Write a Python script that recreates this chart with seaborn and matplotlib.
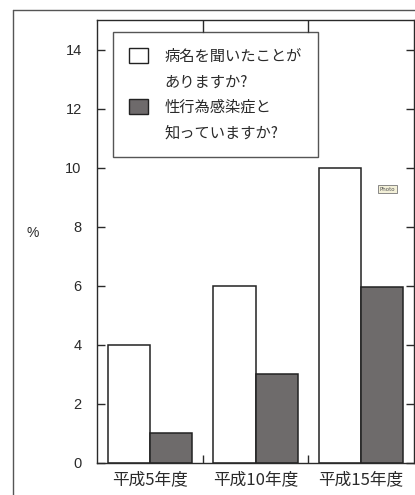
import pandas as pd
import matplotlib
matplotlib.use('Agg')
import matplotlib.pyplot as plt
import seaborn as sns
from matplotlib.patches import Patch
from matplotlib.lines import Line2D

# ----------- data -------------
years = ['平成5年度', '平成10年度', '平成15年度']
heard_of = [4.0, 6.0, 10.0]       # 病名を聞いたことがありますか?
know_sti = [1.0, 3.0, 5.95]       # 性行為感染症と知っていますか?
series_names = ['heard', 'sti']
legend_lines = ['病名を聞いたことが', 'ありますか?', '性行為感染症と', '知っていますか?']
y_ticks = [0, 2, 4, 6, 8, 10, 12, 14]

df = pd.DataFrame({
    'year': years * 2,
    'kind': [series_names[0]] * 3 + [series_names[1]] * 3,
    'value': heard_of + know_sti,
})

sns.set_style('ticks')
plt.rcParams['font.family'] = ['Noto Sans CJK JP', 'DejaVu Sans']

ink = '#2a2a2a'
dark = '#6e6a6b'

fig = plt.figure(figsize=(4.15, 4.95), dpi=100)
ax = fig.add_axes([97 / 415, 32 / 495, 317 / 415, 443 / 495])

sns.barplot(data=df, x='year', y='value', hue='kind', palette=['white', dark],
            edgecolor='#222222', linewidth=1.1, width=0.8, legend=False, ax=ax)

ax.set_ylim(0, 15)
ax.set_xlim(-0.5, 2.5)
ax.set_yticks(y_ticks)
ax.set_xlabel('')
ax.set_ylabel('')

for s in ax.spines.values():
    s.set_visible(True)
    s.set_color(ink)
    s.set_linewidth(1.0)

ax.tick_params(axis='y', direction='in', length=6, width=1, color=ink,
               labelsize=10.5, labelcolor=ink, right=True, pad=11)
for lab in ax.get_yticklabels():
    lab.set_family('Liberation Sans')
ax.tick_params(axis='x', which='major', length=0, labelsize=12, labelcolor=ink, pad=6)
ax.set_xticks([0.5, 1.5], minor=True)
ax.tick_params(axis='x', which='minor', direction='in', length=6, width=1, color=ink)

# category separators on top
top = ax.secondary_xaxis('top')
top.set_xticks([0.5, 1.5], labels=['', ''])
top.tick_params(direction='in', length=9, width=1, color=ink)
top.spines['top'].set_visible(False)

# legend: second line of each entry gets an empty handle
blank = Patch(facecolor='none', edgecolor='none')
handles = [Patch(facecolor='white', edgecolor='#222222', linewidth=1.0), blank,
           Patch(facecolor=dark, edgecolor='#222222', linewidth=1.0), blank]
leg = ax.legend(handles, legend_lines, loc='upper left', bbox_to_anchor=(0.05, 0.973),
                fontsize=11, frameon=True, fancybox=False, edgecolor=ink,
                handlelength=1.25, handleheight=1.1, handletextpad=1.1,
                labelspacing=0.55, borderpad=1.05, borderaxespad=0)
leg.get_frame().set_linewidth(1.0)
for t in leg.get_texts():
    t.set_color(ink)

# little "Photo" stamp
ax.text(0.915, 0.618, 'Photo', transform=ax.transAxes, fontsize=4, color='#555555',
        ha='center', va='center', family='DejaVu Sans',
        bbox=dict(boxstyle='square,pad=0.3', facecolor='#f3f0d8', edgecolor='#777777', linewidth=0.6))

fig.text(33 / 415, 1 - 233 / 495, '%', fontsize=10, color=ink, ha='center', va='center',
         family='Liberation Sans')

# outer frame of the scanned figure
fig.add_artist(Line2D([13 / 415, 13 / 415], [0, 1 - 10 / 495], transform=fig.transFigure,
                      color='#555555', linewidth=1.0))
fig.add_artist(Line2D([13 / 415, 1], [1 - 10 / 495, 1 - 10 / 495], transform=fig.transFigure,
                      color='#555555', linewidth=1.0))

fig.savefig('out.png', dpi=100)
